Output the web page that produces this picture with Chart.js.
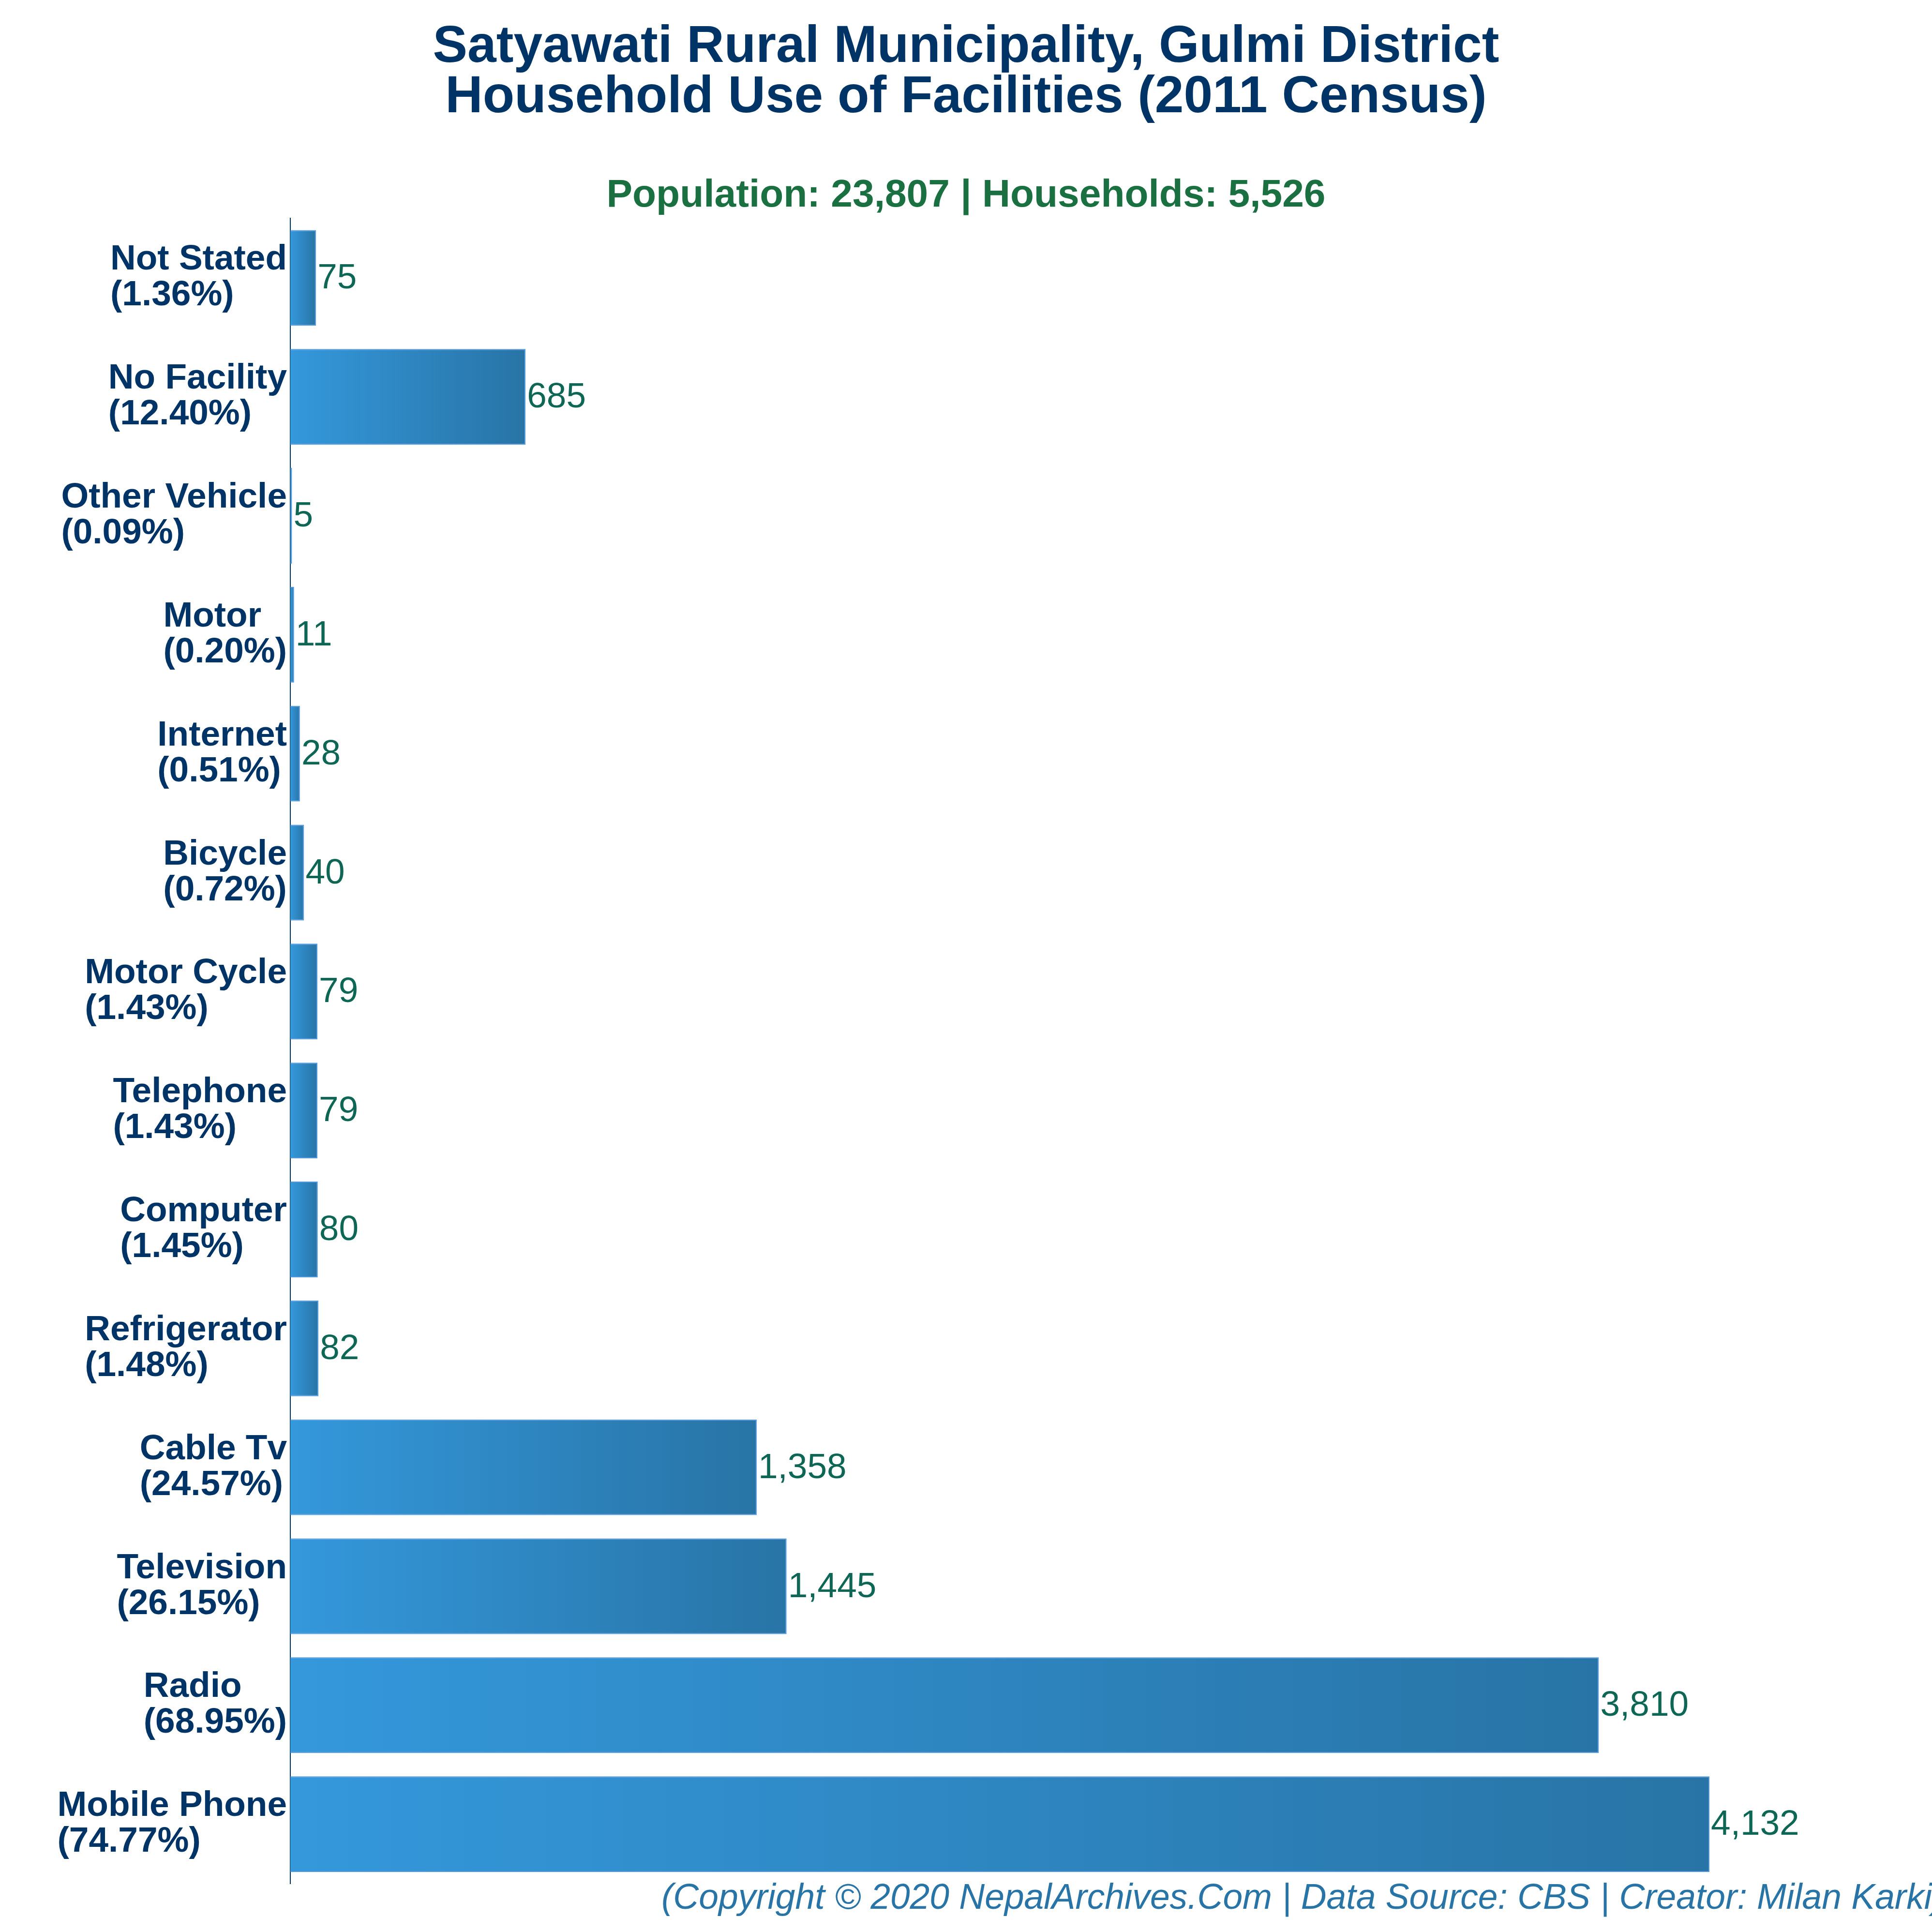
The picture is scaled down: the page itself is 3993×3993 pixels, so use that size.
<!DOCTYPE html>
<html>
<head>
<meta charset="utf-8">
<title>Household Use of Facilities</title>
<script src="https://cdn.jsdelivr.net/npm/chart.js@4/dist/chart.umd.min.js"></script>
<style>
  html, body { margin: 0; padding: 0; background: #fff; overflow: hidden; }
  canvas { display: block; }
</style>
</head>
<body>
<canvas id="main-chart" width="3993" height="3993"></canvas>
<script>
const FACILITIES = ['Not Stated', 'No Facility', 'Other Vehicle', 'Motor', 'Internet', 'Bicycle', 'Motor Cycle',
  'Telephone', 'Computer', 'Refrigerator', 'Cable Tv', 'Television', 'Radio', 'Mobile Phone'];
const PERCENTS = ['1.36', '12.40', '0.09', '0.20', '0.51', '0.72', '1.43', '1.43', '1.45', '1.48', '24.57', '26.15', '68.95', '74.77'];
const HOUSEHOLDS = [75, 685, 5, 11, 28, 40, 79, 79, 80, 82, 1358, 1445, 3810, 4132];

const TITLE_LINES = ['Satyawati Rural Municipality, Gulmi District', 'Household Use of Facilities (2011 Census)'];
const SUBTITLE = 'Population: 23,807 | Households: 5,526';
const FOOTER = '(Copyright © 2020 NepalArchives.Com | Data Source: CBS | Creator: Milan Karki)';

const FONT = "'Liberation Sans', Arial, sans-serif";
const NAVY = '#003366';

// category labels are a left aligned block that ends at the axis, which ticks can't do
const categoryLabels = {
  id: 'categoryLabels',
  afterDraw(chart) {
    const { ctx, scales: { y } } = chart;
    ctx.save();
    ctx.font = `bold 73px ${FONT}`;
    ctx.fillStyle = NAVY;
    ctx.textAlign = 'left';
    ctx.textBaseline = 'middle';
    FACILITIES.forEach((name, i) => {
      const pct = `(${PERCENTS[i]}%)`;
      const w = Math.max(ctx.measureText(name).width, ctx.measureText(pct).width);
      const left = 593 - w;
      const cy = y.getPixelForValue(i);
      ctx.fillText(name, left, cy - 37);
      ctx.fillText(pct, left, cy + 37);
    });
    ctx.restore();
  }
};

const valueLabels = {
  id: 'valueLabels',
  afterDraw(chart) {
    const { ctx, scales: { x, y } } = chart;
    ctx.save();
    ctx.font = `73px ${FONT}`;
    ctx.fillStyle = '#0e6655';
    ctx.textAlign = 'left';
    ctx.textBaseline = 'middle';
    HOUSEHOLDS.forEach((v, i) => {
      ctx.fillText(v.toLocaleString('en-US'), x.getPixelForValue(v) + 3, y.getPixelForValue(i) + 2);
    });
    ctx.restore();
  }
};

const copyrightNote = {
  id: 'copyrightNote',
  afterDraw(chart) {
    const { ctx } = chart;
    ctx.save();
    ctx.font = `italic 73.2px ${FONT}`;
    ctx.fillStyle = '#2874a6';
    ctx.textAlign = 'left';
    ctx.textBaseline = 'middle';
    ctx.fillText(FOOTER, 1367, 3925);
    ctx.restore();
  }
};

function barGradient(context) {
  const { chart, dataIndex } = context;
  // scales have no pixel range until the first layout has run
  if (!chart.chartArea) return '#3498db';
  const x = chart.scales.x;
  const g = chart.ctx.createLinearGradient(x.getPixelForValue(0), 0, x.getPixelForValue(HOUSEHOLDS[dataIndex]), 0);
  g.addColorStop(0, '#3498db');
  g.addColorStop(1, '#2874a6');
  return g;
}

new Chart(document.getElementById('main-chart'), {
  type: 'bar',
  data: {
    labels: FACILITIES,
    datasets: [{
      data: HOUSEHOLDS,
      backgroundColor: barGradient,
      borderColor: '#5499e0',
      borderWidth: 2,
      barPercentage: 0.805,
      categoryPercentage: 1,
    }],
  },
  options: {
    indexAxis: 'y',
    responsive: false,
    animation: false,
    devicePixelRatio: 1,
    layout: { padding: { left: 0, right: 0, top: 0, bottom: 100 } },
    plugins: {
      legend: { display: false },
      tooltip: { enabled: false },
      title: {
        display: true,
        text: TITLE_LINES,
        color: NAVY,
        font: { family: FONT, size: 107.3, weight: 'bold', lineHeight: 0.97 },
        padding: { top: 46, bottom: 111 },
      },
      subtitle: {
        display: true,
        text: SUBTITLE,
        color: '#1a7040',
        font: { family: FONT, size: 80.3, weight: 'bold', lineHeight: 1 },
        padding: { top: 0, bottom: 6 },
      },
    },
    scales: {
      x: { display: false, min: 0, max: 4780 },
      y: {
        grid: { display: false },
        border: { display: true, color: NAVY, width: 2 },
        ticks: { display: false },
        afterFit: (scale) => { scale.width = 600; },
      },
    },
  },
  plugins: [categoryLabels, valueLabels, copyrightNote],
});
</script>
</body>
</html>
